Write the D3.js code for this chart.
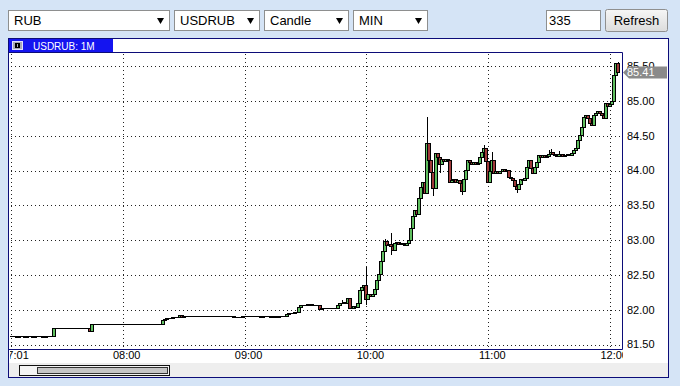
<!DOCTYPE html>
<html>
<head>
<meta charset="utf-8">
<script src="https://cdn.jsdelivr.net/npm/d3@7"></script>
<style>
  html, body { margin: 0; padding: 0; background: #d5e4f6; }
  svg { display: block; font-family: "Liberation Sans", Arial, sans-serif; }
</style>
</head>
<body>
<script>
(function (d3) {
  "use strict";

  /***** Data *****/
  var toolbarItems = ["RUB", "USDRUB", "Candle", "MIN"];
  var barCount = "335";
  var buttonLabel = "Refresh";
  var chartTitle = "USDRUB: 1M";

  // close of each 1-minute bar (open = previous close)
  var closes = [
    81.62, 81.62, 81.62, 81.61, 81.62, 81.62, 81.62, 81.61, 81.62, 81.62,
    81.62, 81.61, 81.62, 81.62, 81.62, 81.62, 81.61, 81.62, 81.62, 81.62,
    81.62, 81.74, 81.74, 81.74, 81.74, 81.74, 81.74, 81.74, 81.74, 81.74,
    81.74, 81.74, 81.74, 81.73, 81.73, 81.73, 81.73, 81.73, 81.73, 81.69,
    81.80, 81.80, 81.80, 81.80, 81.80, 81.80, 81.80, 81.80, 81.80, 81.80,
    81.79, 81.79, 81.80, 81.80, 81.79, 81.79, 81.80, 81.80, 81.80, 81.79,
    81.80, 81.80, 81.80, 81.80, 81.80, 81.80, 81.80, 81.80, 81.80, 81.80,
    81.80, 81.80, 81.80, 81.80, 81.80, 81.85, 81.86, 81.88, 81.88, 81.88,
    81.89, 81.89, 81.89, 81.92, 81.90, 81.91, 81.91, 81.91, 81.91, 81.91,
    81.91, 81.91, 81.91, 81.91, 81.91, 81.91, 81.91, 81.91, 81.91, 81.91,
    81.91, 81.91, 81.91, 81.91, 81.91, 81.91, 81.91, 81.91, 81.91, 81.91,
    81.90, 81.90, 81.90, 81.90, 81.91, 81.91, 81.91, 81.91, 81.91, 81.91,
    81.91, 81.91, 81.91, 81.90, 81.91, 81.91, 81.91, 81.91, 81.90, 81.91,
    81.91, 81.90, 81.91, 81.91, 81.91, 81.91, 81.94, 81.95, 81.95, 81.95,
    81.96, 81.97, 82.04, 82.07, 82.07, 82.07, 82.08, 82.08, 82.07, 82.07,
    82.07, 82.07, 82.01, 82.02, 82.02, 82.02, 82.02, 82.02, 82.02, 82.02,
    82.02, 82.07, 82.10, 82.09, 82.11, 82.10, 82.17, 82.02, 82.03, 82.06,
    82.04, 82.10, 82.28, 82.32, 82.35, 82.16, 82.22, 82.20, 82.23, 82.30,
    82.43, 82.52, 82.70, 82.84, 82.98, 82.93, 82.95, 82.92, 82.86, 82.96,
    82.97, 82.94, 82.96, 82.94, 82.93, 82.96, 83.00, 83.18, 83.34, 83.43,
    83.38, 83.60, 83.77, 83.84, 83.67, 84.40, 84.15, 83.98, 83.75, 84.25,
    84.20, 84.10, 84.16, 84.13, 84.16, 84.15, 83.84, 83.86, 83.88, 83.84,
    83.86, 83.82, 83.70, 83.88, 84.01, 84.15, 84.12, 84.10, 84.12, 84.10,
    84.11, 84.20, 84.27, 84.32, 84.13, 83.84, 84.00, 84.15, 83.96, 84.00,
    83.97, 84.00, 84.02, 84.00, 84.01, 83.91, 83.89, 83.86, 83.78, 83.74,
    83.80, 83.88, 83.87, 83.89, 84.05, 84.15, 84.03, 83.97, 84.05, 84.12,
    84.22, 84.20, 84.22, 84.19, 84.21, 84.24, 84.27, 84.23, 84.22, 84.21,
    84.24, 84.23, 84.21, 84.22, 84.24, 84.22, 84.25, 84.29, 84.33, 84.44,
    84.51, 84.62, 84.77, 84.80, 84.76, 84.68, 84.66, 84.80, 84.83, 84.85,
    84.82, 84.80, 84.76, 84.97, 84.92, 84.95, 85.00, 85.37, 85.54, 85.41
  ];

  // [bar index, high, low] for bars with visible shadows
  var wicks = [
    [163, 82.14, 82.08], [175, 82.61, 82.07], [184, 83.01, 82.84],
    [187, 83.10, 82.78], [205, 84.77, 83.67], [208, 83.98, 83.64],
    [211, 84.20, 83.96], [222, 83.82, 83.65], [233, 84.37, 84.27],
    [237, 84.27, 84.00], [249, 83.78, 83.67], [265, 84.30, 84.21],
    [266, 84.31, 84.24], [270, 84.28, 84.20], [299, 85.56, 85.41]
  ];

  var timeTickIndex = [0, 55, 115, 175, 235, 295];
  var timeTickLabels = ["07:01", "08:00", "09:00", "10:00", "11:00", "12:00"];
  var priceTicks = [81.5, 82, 82.5, 83, 83.5, 84, 84.5, 85, 85.5];
  var lastPrice = 85.41;

  /***** Configuration *****/
  var width = 680, height = 386;
  var panel = { left: 8, top: 38, right: 668, bottom: 377 };
  var plot = { left: 9, top: 52, right: 622, bottom: 349 };
  var selectBoxes = [{ x: 8, w: 161 }, { x: 174, w: 85 }, { x: 264, w: 84 }, { x: 353, w: 74 }];
  var navy = "#0c0c78";
  var upColor = "#5fbf5f";
  var downColor = "#a03a3a";

  /***** Scales *****/
  var x = d3.scaleLinear().domain([0, closes.length - 1]).range([11, 618.3]);
  var y = d3.scaleLinear().domain([81.5, 85.5]).range([344.5, 66.1]);

  var wickMap = new Map(wicks.map(function (w) { return [w[0], w]; }));
  var bars = closes.map(function (c, i) {
    var o = i ? closes[i - 1] : c;
    var w = wickMap.get(i);
    return {
      i: i, open: o, close: c,
      high: Math.max(o, c, w ? w[1] : c),
      low: Math.min(o, c, w ? w[2] : c)
    };
  });

  var svg = d3.select("body").append("svg")
    .attr("width", width)
    .attr("height", height);

  /***** Toolbar *****/
  var tb = svg.append("g").attr("class", "toolbar");
  selectBoxes.forEach(function (b, k) {
    tb.append("rect")
      .attr("x", b.x + 0.5).attr("y", 10.5)
      .attr("width", b.w).attr("height", 20)
      .attr("fill", "#fff").attr("stroke", "#8e8f8f");
    tb.append("text")
      .attr("x", b.x + 6).attr("y", 25)
      .attr("font-size", 13).attr("fill", "#000")
      .text(toolbarItems[k]);
    tb.append("path")
      .attr("d", "M" + (b.x + b.w - 12) + ",18h7l-3.5,6z")
      .attr("fill", "#000");
  });
  tb.append("rect")
    .attr("x", 546.5).attr("y", 10.5).attr("width", 54).attr("height", 20)
    .attr("fill", "#fff").attr("stroke", "#8e8f8f");
  tb.append("text")
    .attr("x", 549).attr("y", 25).attr("font-size", 13).text(barCount);

  var grad = svg.append("defs").append("linearGradient")
    .attr("id", "btn").attr("x1", 0).attr("x2", 0).attr("y1", 0).attr("y2", 1);
  grad.append("stop").attr("offset", 0).attr("stop-color", "#f6f6f6");
  grad.append("stop").attr("offset", 1).attr("stop-color", "#dcdcdc");
  tb.append("rect")
    .attr("x", 605.5).attr("y", 9.5).attr("width", 62).attr("height", 22).attr("rx", 2)
    .attr("fill", "url(#btn)").attr("stroke", "#8f8f8f");
  tb.append("text")
    .attr("x", 636.5).attr("y", 25).attr("text-anchor", "middle")
    .attr("font-size", 13).text(buttonLabel);

  /***** Panel *****/
  svg.append("rect")
    .attr("x", panel.left + 0.5).attr("y", panel.top + 0.5)
    .attr("width", panel.right - panel.left).attr("height", panel.bottom - panel.top)
    .attr("fill", "#fff").attr("stroke", navy);

  // title tab
  svg.append("rect")
    .attr("x", 9).attr("y", 39).attr("width", 104).attr("height", 13)
    .attr("fill", "#1414f0");
  svg.append("rect")
    .attr("x", 12.5).attr("y", 41.5).attr("width", 10).attr("height", 8)
    .attr("fill", "#a8a8b8").attr("stroke", "#e0e0ff");
  svg.append("rect")
    .attr("x", 15).attr("y", 43).attr("width", 5).attr("height", 5)
    .attr("fill", "#000");
  svg.append("rect")
    .attr("x", 17).attr("y", 44).attr("width", 1).attr("height", 3)
    .attr("fill", "#a8a8b8");
  svg.append("text")
    .attr("x", 33).attr("y", 49.5).attr("font-size", 10).attr("fill", "#fff")
    .text(chartTitle);

  // scrollbar
  svg.append("rect")
    .attr("x", panel.left + 1).attr("y", 363).attr("width", panel.right - panel.left - 1).attr("height", 14)
    .attr("fill", "#eeeeee");
  svg.append("rect")
    .attr("x", 19.5).attr("y", 365.5).attr("width", 150).attr("height", 10)
    .attr("fill", "#f4f4f4").attr("stroke", "#111");
  svg.append("rect")
    .attr("x", 37.5).attr("y", 367.5).attr("width", 130).attr("height", 6)
    .attr("fill", "#c6c6c6").attr("stroke", "#333");

  /***** Grid *****/
  var grid = svg.append("g").attr("class", "grid")
    .attr("stroke", "#222").attr("stroke-width", 1).attr("stroke-dasharray", "1,3");
  grid.selectAll("line.h").data(priceTicks).enter().append("line")
    .attr("x1", plot.left + 2).attr("x2", plot.right - 1)
    .attr("y1", function (d) { return Math.round(y(d)) + 0.5; })
    .attr("y2", function (d) { return Math.round(y(d)) + 0.5; });
  grid.selectAll("line.v").data(timeTickIndex).enter().append("line")
    .attr("y1", plot.top + 2).attr("y2", plot.bottom - 1)
    .attr("x1", function (d) { return Math.round(x(d)) + 0.5; })
    .attr("x2", function (d) { return Math.round(x(d)) + 0.5; });

  /***** Candles *****/
  svg.append("clipPath").attr("id", "plotClip").append("rect")
    .attr("x", plot.left).attr("y", plot.top)
    .attr("width", plot.right - plot.left).attr("height", plot.bottom - plot.top);
  var cg = svg.append("g").attr("clip-path", "url(#plotClip)");

  cg.selectAll("line.wick").data(bars.filter(function (d) {
      return d.high > Math.max(d.open, d.close) || d.low < Math.min(d.open, d.close);
    }))
    .enter().append("line")
    .attr("x1", function (d) { return Math.round(x(d.i)) + 0.5; })
    .attr("x2", function (d) { return Math.round(x(d.i)) + 0.5; })
    .attr("y1", function (d) { return Math.round(y(d.high)); })
    .attr("y2", function (d) { return Math.round(y(d.low)); })
    .attr("stroke", "#000");

  // flat bars: a short horizontal stroke
  cg.selectAll("line.flat").data(bars.filter(function (d) {
      return Math.round(y(d.open)) === Math.round(y(d.close));
    }))
    .enter().append("line")
    .attr("x1", function (d) { return Math.round(x(d.i)) - 1; })
    .attr("x2", function (d) { return Math.round(x(d.i)) + 2; })
    .attr("y1", function (d) { return Math.round(y(d.close)) + 0.5; })
    .attr("y2", function (d) { return Math.round(y(d.close)) + 0.5; })
    .attr("stroke", "#000");

  // bodies
  cg.selectAll("rect.body").data(bars.filter(function (d) {
      return Math.round(y(d.open)) !== Math.round(y(d.close));
    }))
    .enter().append("rect")
    .attr("x", function (d) { return Math.round(x(d.i)) - 1.5; })
    .attr("y", function (d) { return Math.round(y(Math.max(d.open, d.close))) + 0.5; })
    .attr("width", 3)
    .attr("height", function (d) {
      return Math.round(y(Math.min(d.open, d.close))) - Math.round(y(Math.max(d.open, d.close)));
    })
    .attr("fill", function (d) { return d.close > d.open ? upColor : downColor; })
    .attr("stroke", "#000");

  /***** Frame and axes *****/
  svg.append("path")
    .attr("d", "M" + (plot.left) + "," + (plot.top + 0.5) + "H" + (plot.right + 0.5) +
      "V" + (plot.bottom + 0.5) + "H" + plot.left)
    .attr("fill", "none").attr("stroke", navy);

  svg.append("clipPath").attr("id", "xLabelClip").append("rect")
    .attr("x", plot.left + 1).attr("y", plot.bottom)
    .attr("width", plot.right - plot.left).attr("height", 14);
  svg.append("g").attr("clip-path", "url(#xLabelClip)")
    .selectAll("text").data(timeTickIndex).enter().append("text")
    .attr("x", function (d) { return x(d) + 4; })
    .attr("y", 359)
    .attr("text-anchor", "middle")
    .attr("font-size", 11)
    .text(function (d, k) { return timeTickLabels[k]; });

  svg.append("g").selectAll("text").data(priceTicks).enter().append("text")
    .attr("x", 627)
    .attr("y", function (d) { return y(d); })
    .attr("dy", "0.36em")
    .attr("font-size", 11)
    .text(function (d) { return d3.format(".2f")(d); });

  // last price tag
  var ly = Math.round(y(lastPrice)) + 0.5;
  svg.append("path")
    .attr("d", "M623," + ly + "L629," + (ly - 6) + "H667V" + (ly + 6) + "H629Z")
    .attr("fill", "#8a8a8a");
  svg.append("text")
    .attr("x", 627).attr("y", ly).attr("dy", "0.36em")
    .attr("font-size", 11).attr("fill", "#fff")
    .text(d3.format(".2f")(lastPrice));

})(d3);
</script>
</body>
</html>
